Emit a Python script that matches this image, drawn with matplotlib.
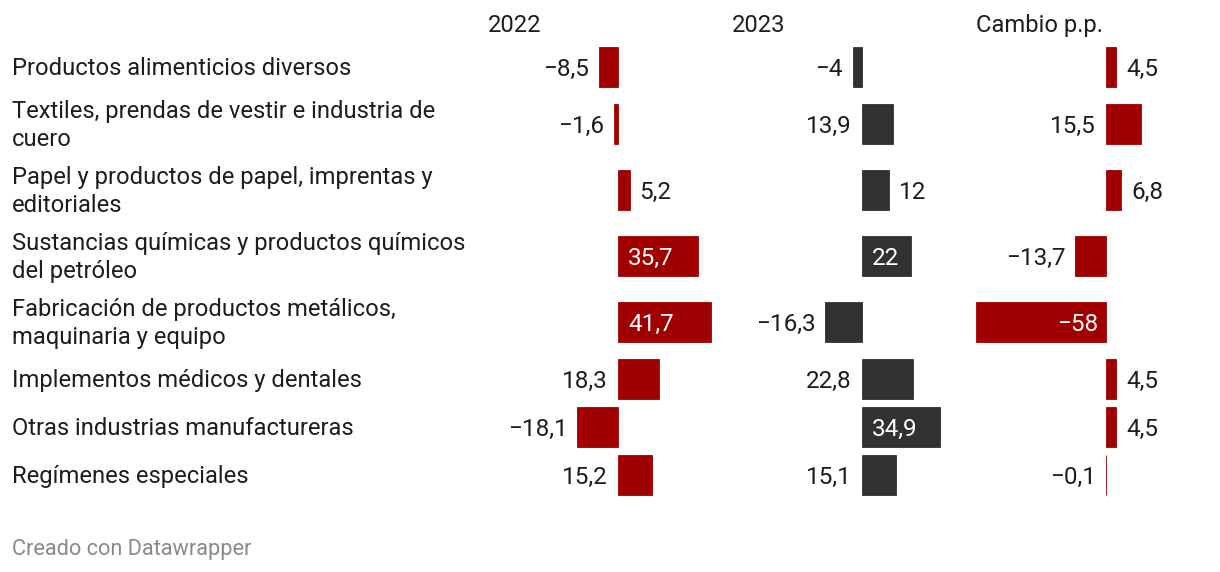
import matplotlib
matplotlib.use("Agg")
import matplotlib.pyplot as plt

plt.rcParams['font.family'] = ['Roboto', 'DejaVu Sans']

# ---- data ----
categories = [
    "Productos alimenticios diversos",
    "Textiles, prendas de vestir e industria de\ncuero",
    "Papel y productos de papel, imprentas y\neditoriales",
    "Sustancias químicas y productos químicos\ndel petróleo",
    "Fabricación de productos metálicos,\nmaquinaria y equipo",
    "Implementos médicos y dentales",
    "Otras industrias manufactureras",
    "Regímenes especiales",
]
column_titles = ["2022", "2023", "Cambio p.p."]
values_2022 = [-8.5, -1.6, 5.2, 35.7, 41.7, 18.3, -18.1, 15.2]
values_2023 = [-4, 13.9, 12, 22, -16.3, 22.8, 34.9, 15.1]
values_cambio = [4.5, 15.5, 6.8, -13.7, -58, 4.5, 4.5, -0.1]
footer = "Creado con Datawrapper"

# ---- style / layout ----
RED = "#a00000"
DARK = "#313131"
TEXT = "#1d1d1d"
col_colors = [RED, DARK, RED]
# label placement per cell: 'left', 'right', 'in'
label_pos = [
    ['left', 'left', 'right', 'in', 'in', 'left', 'left', 'left'],
    ['left', 'left', 'right', 'in', 'left', 'left', 'in', 'left'],
    ['right', 'left', 'right', 'left', 'in', 'right', 'right', 'left'],
]

W, H, DPI = 1220, 572, 100
FS_PX = 23.8
FS = FS_PX * 72 / DPI
NUM_FS_PX = 24.3
NUM_FS = NUM_FS_PX * 72 / DPI
FOOT_PX = 21.8
CAP = 0.355  # half cap height relative to font size

fig = plt.figure(figsize=(W / DPI, H / DPI), dpi=DPI)
fig.patch.set_facecolor("white")

def ftext(x, y, s, **kw):
    fig.text(x / W, 1 - y / H, s, **kw)

# row centres from line counts
nlines = [c.count("\n") + 1 for c in categories]
half = [24 if n == 1 else 33 for n in nlines]
centers = []
y = 43
for hh in half:
    centers.append(y + hh)
    y += 2 * hh

# category labels
LINE_H = 28
for c, yc in zip(categories, centers):
    lines = c.split("\n")
    n = len(lines)
    for k, ln in enumerate(lines):
        yl = yc + (k - (n - 1) / 2) * LINE_H
        ftext(12, yl + CAP * FS_PX, ln, fontsize=FS, color=TEXT, va='baseline', ha='left')

def fmt(v):
    s = f"{v:g}".replace(".", ",").replace("-", "\u2212")
    return s

COL_X0 = 488
COL_W = 244
PX_PER_UNIT = 2.24
XMIN, XMAX = -58, 42
series = [values_2022, values_2023, values_cambio]

for i, (vals, title) in enumerate(zip(series, column_titles)):
    x0 = COL_X0 + COL_W * i
    axw = (XMAX - XMIN) * PX_PER_UNIT
    ax = fig.add_axes([x0 / W, 0, axw / W, 1])
    ax.set_xlim(XMIN, XMAX)
    ax.set_ylim(H, 0)
    ax.axis('off')
    ax.barh(centers, vals, height=40, color=col_colors[i],
            edgecolor=col_colors[i], linewidth=0.6)
    for v, yc, pos in zip(vals, centers, label_pos[i]):
        yb = yc + CAP * NUM_FS_PX
        if pos == 'left':
            xa, dx, ha, col = min(0, v), -10, 'right', TEXT
        elif pos == 'right':
            xa, dx, ha, col = max(0, v), 10, 'left', TEXT
        else:
            if v >= 0:
                xa, dx, ha, col = 0, 10, 'left', 'white'
            else:
                xa, dx, ha, col = 0, -8, 'right', 'white'
        ax.annotate(fmt(v), xy=(xa, yb), xytext=(dx, 0), textcoords='offset pixels',
                    ha=ha, va='baseline', fontsize=NUM_FS, color=col)
    ftext(x0, 24 + CAP * FS_PX, title, fontsize=FS, color=TEXT, va='baseline', ha='left')

ftext(12, 547 + CAP * FOOT_PX, footer, fontsize=FOOT_PX * 72 / DPI, color="#8a8a8a",
      va='baseline', ha='left')

fig.savefig("out.png", dpi=DPI, facecolor="white")
